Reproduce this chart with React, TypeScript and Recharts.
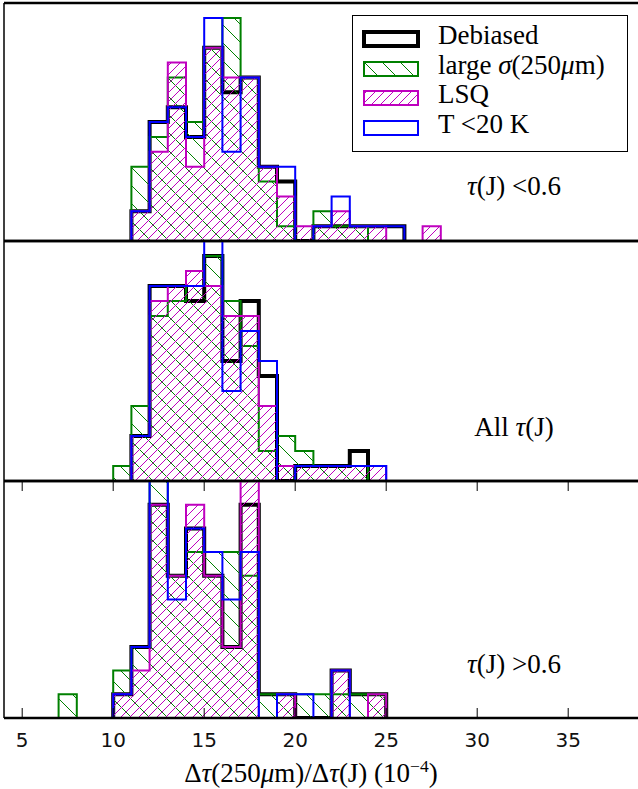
import React from 'react';
import { ComposedChart, Area, XAxis, YAxis, ReferenceLine } from 'recharts';

// ---------- data (counts per unit-wide bin, first bin starts at BIN_START) ----------
const BIN_START = 6;
const X_TICKS = [5, 10, 15, 20, 25, 30, 35];
const X_DOMAIN: [number, number] = [4, 40];

// top panel: tau(J) < 0.6   bins 6..28
const topDebiased = [0, 0, 0, 0, 0, 2, 8, 9, 7, 13, 10, 11, 5, 4, 0, 1, 1, 1, 1, 1, 0, 0, 0];
const topLarge = [0, 0, 0, 0, 0, 5, 7, 11, 8, 13, 15, 11, 4, 1, 0, 2, 1, 1, 0, 0, 0, 0, 0];
const topLsq = [0, 0, 0, 0, 0, 2, 6, 12, 5, 13, 11, 11, 5, 3, 1, 1, 2, 1, 1, 0, 0, 1, 0];
const topT20 = [0, 0, 0, 0, 0, 2, 8, 9, 7, 15, 6, 11, 5, 5, 0, 1, 3, 1, 1, 1, 0, 0, 0];

// middle panel: all tau(J)
const midDebiased = [0, 0, 0, 0, 0, 3, 13, 13, 12, 15, 8, 12, 7, 0, 1, 1, 1, 2, 0, 0, 0, 0, 0];
const midLarge = [0, 0, 0, 0, 1, 5, 11, 12, 13, 15, 12, 9, 2, 3, 2, 1, 1, 1, 0, 0, 0, 0, 0];
const midLsq = [0, 0, 0, 0, 0, 3, 12, 13, 14, 13, 11, 11, 5, 1, 1, 1, 1, 1, 1, 0, 0, 0, 0];
const midT20 = [0, 0, 0, 0, 0, 3, 13, 13, 13, 17, 6, 10, 8, 0, 1, 1, 1, 1, 1, 0, 0, 0, 0];

// bottom panel: tau(J) > 0.6
const botDebiased = [0, 0, 0, 0, 1, 3, 9, 6, 8, 6, 3, 9, 1, 1, 0, 0, 2, 1, 1, 0, 0, 0, 0];
const botLarge = [0, 1, 0, 0, 2, 3, 11, 6, 7, 7, 7, 6, 1, 1, 1, 1, 1, 1, 1, 0, 0, 0, 0];
const botLsq = [0, 0, 0, 0, 1, 2, 9, 6, 9, 6, 3, 11, 0, 1, 0, 0, 2, 0, 1, 0, 0, 0, 0];
const botT20 = [0, 0, 0, 0, 1, 3, 11, 5, 8, 7, 5, 7, 0, 1, 1, 0, 2, 0, 0, 0, 0, 0, 0];

const TOP_YMAX = 16;
const MID_YMAX = 16;
const BOT_YMAX = 10;

// ---------- styles ----------
const C_BLACK = '#000000';
const C_GREEN = '#008000';
const C_MAGENTA = '#bf00bf';
const C_BLUE = '#0000ff';
const SERIF = '"Liberation Serif", "DejaVu Serif", serif';
const SANS = '"DejaVu Sans", sans-serif';

// Build step-outline rows: two rows per bin edge (value of bin before / after the edge).
// Values outside a series' occupied range are null so no baseline stroke is drawn there.
function buildRows(series: Record<string, number[]>) {
  const keys = Object.keys(series);
  const n = series[keys[0]].length;
  const ranges: Record<string, [number, number]> = {};
  keys.forEach((k) => {
    const c = series[k];
    let f = c.findIndex((v) => v > 0);
    let l = c.length - 1;
    while (l >= 0 && c[l] <= 0) l--;
    ranges[k] = [f, l];
  });
  const rows: any[] = [];
  for (let e = 0; e <= n; e++) {
    const a: any = { x: BIN_START + e };
    const b: any = { x: BIN_START + e };
    keys.forEach((k) => {
      const c = series[k];
      const [f, l] = ranges[k];
      const inside = e >= f && e <= l + 1;
      a[k] = inside ? (e > 0 ? c[e - 1] : 0) : null;
      b[k] = inside ? (e < n ? c[e] : 0) : null;
    });
    rows.push(a, b);
  }
  return rows;
}

const CHART_W = 700;
const MARGIN_LEFT = 4;
const MARGIN_RIGHT = 40.8;

function Panel(props: {
  rows: any[];
  ymax: number;
  top: number;
  height: number;
  marginTop: number;
  marginBottom: number;
  withAxis: boolean;
}) {
  const { rows, ymax, top, height, marginTop, marginBottom, withAxis } = props;
  const axisH = withAxis ? 40 : 0;
  const plotH = height - marginTop - marginBottom - axisH;
  const tickLen = (ymax * 10) / plotH;
  const common = {
    type: 'linear' as const,
    strokeLinejoin: 'miter' as const,
    dot: false,
    activeDot: false,
    isAnimationActive: false,
  };
  return (
    <div style={{ position: 'absolute', left: 0, top }}>
      <ComposedChart
        width={CHART_W}
        height={height}
        data={rows}
        margin={{ top: marginTop, bottom: marginBottom, left: MARGIN_LEFT, right: MARGIN_RIGHT }}
      >
        <XAxis
          dataKey="x"
          type="number"
          domain={X_DOMAIN}
          allowDataOverflow
          ticks={X_TICKS}
          hide={!withAxis}
          height={axisH}
          axisLine={false}
          tickLine={false}
          tickSize={0}
          tickMargin={15}
          tick={{ fontFamily: SANS, fontSize: 20, fill: '#111' }}
          interval={0}
        />
        <YAxis hide type="number" domain={[0, ymax]} allowDataOverflow />
        <Area dataKey="deb" {...common} stroke={C_BLACK} strokeWidth={4} fill="none" />
        <Area dataKey="large" {...common} stroke={C_GREEN} strokeWidth={2} fill="url(#hatchGreen)" fillOpacity={1} />
        <Area dataKey="lsq" {...common} stroke={C_MAGENTA} strokeWidth={2} fill="url(#hatchMagenta)" fillOpacity={1} />
        <Area dataKey="t20" {...common} stroke={C_BLUE} strokeWidth={2} fill="none" />
        <ReferenceLine y={ymax} stroke="#000" strokeWidth={2.5} />
        <ReferenceLine y={0} stroke="#000" strokeWidth={2.5} />
        <ReferenceLine x={X_DOMAIN[0]} stroke="#000" strokeWidth={1.5} />
        {withAxis &&
          X_TICKS.map((t) => (
            <ReferenceLine
              key={'b' + t}
              segment={[
                { x: t, y: 0 },
                { x: t, y: tickLen },
              ]}
              stroke="#000"
              strokeWidth={1}
            />
          ))}
        {withAxis &&
          X_TICKS.map((t) => (
            <ReferenceLine
              key={'t' + t}
              segment={[
                { x: t, y: ymax },
                { x: t, y: ymax - tickLen },
              ]}
              stroke="#000"
              strokeWidth={1}
            />
          ))}
      </ComposedChart>
    </div>
  );
}

function Tau() {
  return <span style={{ fontStyle: 'italic' }}>τ</span>;
}

function LegendPatch({ stroke, width, fill }: { stroke: string; width: number; fill: string }) {
  return (
    <svg width={60} height={22} style={{ position: 'absolute', left: 8, top: 3 }}>
      <rect x={3} y={3} width={54} height={14} fill={fill} stroke={stroke} strokeWidth={width} />
    </svg>
  );
}

const legendItems = [
  { key: 'deb', stroke: C_BLACK, width: 4, fill: 'none' },
  { key: 'large', stroke: C_GREEN, width: 2, fill: 'url(#hatchGreen)' },
  { key: 'lsq', stroke: C_MAGENTA, width: 2, fill: 'url(#hatchMagenta)' },
  { key: 't20', stroke: C_BLUE, width: 2, fill: 'none' },
];

function legendLabel(key: string) {
  if (key === 'deb') return <span>Debiased</span>;
  if (key === 'large')
    return (
      <span>
        large <span style={{ fontStyle: 'italic' }}>σ</span>(250<span style={{ fontStyle: 'italic' }}>μ</span>m)
      </span>
    );
  if (key === 'lsq') return <span>LSQ</span>;
  return <span>T &lt;20 K</span>;
}

export default function App() {
  const topRows = buildRows({ deb: topDebiased, large: topLarge, lsq: topLsq, t20: topT20 });
  const midRows = buildRows({ deb: midDebiased, large: midLarge, lsq: midLsq, t20: midT20 });
  const botRows = buildRows({ deb: botDebiased, large: botLarge, lsq: botLsq, t20: botT20 });

  const annot: React.CSSProperties = {
    position: 'absolute',
    left: 514,
    transform: 'translate(-50%,-50%)',
    fontFamily: SERIF,
    fontSize: 27,
    whiteSpace: 'nowrap',
  };

  return (
    <div
      style={{
        position: 'absolute',
        left: 0,
        top: 0,
        width: 638,
        height: 789,
        overflow: 'hidden',
        background: '#fff',
      }}
    >
      <svg width={1} height={1} style={{ position: 'absolute', left: 0, top: 0 }}>
        <defs>
          <pattern id="hatchMagenta" width={9} height={9} patternUnits="userSpaceOnUse">
            <path d="M0,9 L9,0 M-2,2 L2,-2 M7,11 L11,7" stroke={C_MAGENTA} strokeWidth={1} />
          </pattern>
          <pattern id="hatchGreen" width={18} height={18} patternUnits="userSpaceOnUse">
            <path d="M0,0 L18,18 M-2,16 L2,20 M16,-2 L20,2" stroke={C_GREEN} strokeWidth={1} />
          </pattern>
        </defs>
      </svg>

      <Panel rows={topRows} ymax={TOP_YMAX} top={0} height={245} marginTop={3} marginBottom={4} withAxis={false} />
      <Panel rows={midRows} ymax={MID_YMAX} top={238} height={246} marginTop={3} marginBottom={3} withAxis={false} />
      <Panel rows={botRows} ymax={BOT_YMAX} top={478} height={311} marginTop={3} marginBottom={31} withAxis={true} />

      {/* legend */}
      <div
        style={{
          position: 'absolute',
          left: 352,
          top: 15,
          width: 274,
          height: 135,
          border: '1.5px solid #000',
          background: '#fff',
          fontFamily: SERIF,
          fontSize: 27,
          color: '#000',
        }}
      >
        {legendItems.map((it, i) => (
          <div key={it.key} style={{ position: 'absolute', left: 0, top: 10 + i * 29.5, height: 28, width: 274 }}>
            <LegendPatch stroke={it.stroke} width={it.width} fill={it.fill} />
            <div style={{ position: 'absolute', left: 85, top: -5, whiteSpace: 'nowrap', lineHeight: '28px' }}>
              {legendLabel(it.key)}
            </div>
          </div>
        ))}
      </div>

      {/* panel annotations */}
      <div style={{ ...annot, top: 186 }}>
        <Tau />(J) &lt;0.6
      </div>
      <div style={{ ...annot, top: 427 }}>
        All <Tau />(J)
      </div>
      <div style={{ ...annot, top: 664 }}>
        <Tau />(J) &gt;0.6
      </div>

      {/* x-axis label */}
      <div style={{ position: 'absolute', left: 311, top: 772, transform: 'translate(-50%,-50%)', fontFamily: SERIF, fontSize: 27, whiteSpace: 'nowrap' }}>
        Δ<Tau />(250<span style={{ fontStyle: 'italic' }}>μ</span>m)/Δ<Tau />(J) (10
        <sup style={{ fontSize: '0.65em' }}>−4</sup>)
      </div>
    </div>
  );
}
